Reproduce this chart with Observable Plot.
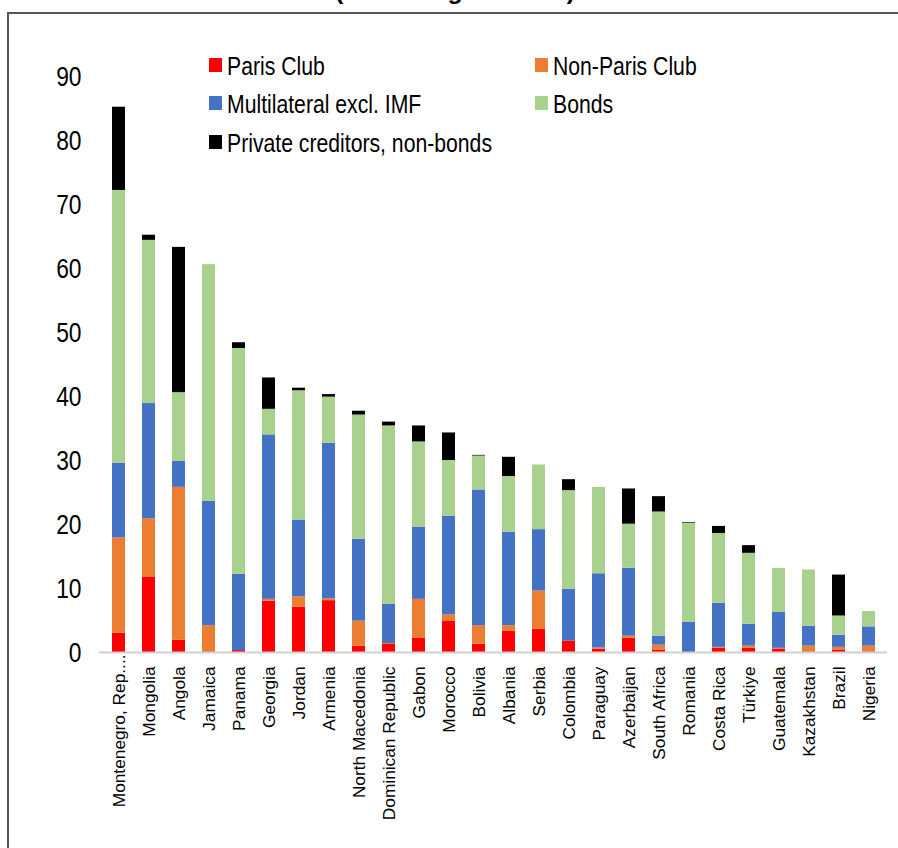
<!DOCTYPE html>
<html>
<head>
<meta charset="utf-8">
<script src="https://cdn.jsdelivr.net/npm/d3@7"></script>
<script src="https://cdn.jsdelivr.net/npm/@observablehq/plot@0.6"></script>
<style>
  html, body { margin: 0; padding: 0; background: #fff; }
  #chart { width: 898px; height: 848px; overflow: hidden; }
</style>
</head>
<body>
<div id="chart"></div>
<script>
// Stock of external public debt by creditor, percent of GDP
const countries = [
  "Montenegro, Rep. of", "Mongolia", "Angola", "Jamaica", "Panama", "Georgia",
  "Jordan", "Armenia", "North Macedonia", "Dominican Republic", "Gabon",
  "Morocco", "Bolivia", "Albania", "Serbia", "Colombia", "Paraguay",
  "Azerbaijan", "South Africa", "Romania", "Costa Rica", "Türkiye",
  "Guatemala", "Kazakhstan", "Brazil", "Nigeria"
];

const parisClub    = [3.0, 11.8, 1.9, 0.1, 0.3, 8.0, 7.1, 8.1, 1.0, 1.25, 2.2, 4.85, 1.3, 3.3, 3.65, 1.8, 0.5, 2.2, 0.4, 0.0, 0.7, 0.7, 0.55, 0.0, 0.4, 0.1];
const nonParisClub = [14.9, 9.1, 23.9, 4.1, 0.0, 0.3, 1.6, 0.3, 3.9, 0.15, 6.1, 1.05, 2.9, 0.9, 5.95, 0.0, 0.2, 0.35, 0.75, 0.0, 0.1, 0.3, 0.1, 1.0, 0.4, 0.9];
const multilateral = [11.7, 18.0, 4.1, 19.4, 11.9, 25.7, 12.0, 24.3, 12.8, 6.1, 11.3, 15.4, 21.2, 14.6, 9.6, 8.1, 11.6, 10.6, 1.4, 4.7, 6.9, 3.4, 5.6, 3.1, 1.9, 3.0];
const bonds        = [42.6, 25.5, 10.7, 37.0, 35.3, 4.0, 20.2, 7.2, 19.4, 27.9, 13.3, 8.7, 5.3, 8.7, 10.1, 15.4, 13.5, 6.9, 19.4, 15.5, 10.9, 11.1, 6.9, 8.8, 3.0, 2.4];
const privateOther = [13.0, 0.8, 22.7, 0.0, 0.9, 4.9, 0.4, 0.4, 0.6, 0.6, 2.5, 4.3, 0.1, 3.0, 0.0, 1.7, 0.0, 5.5, 2.4, 0.1, 1.1, 1.2, 0.0, 0.0, 6.4, 0.0];

const creditors = ["Paris Club", "Non-Paris Club", "Multilateral excl. IMF", "Bonds", "Private creditors, non-bonds"];
const creditorColors = ["#FF0000", "#ED7D31", "#4472C4", "#A9D18E", "#000000"];
const yTicks = [0, 10, 20, 30, 40, 50, 60, 70, 80, 90];
const titleText = "(Percentage of GDP)";

const seriesValues = [parisClub, nonParisClub, multilateral, bonds, privateOther];
const rows = countries.flatMap((country, i) =>
  creditors.map((creditor, j) => ({country, creditor, value: seriesValues[j][i]}))
);

const sans = "'Liberation Sans', Arial, sans-serif";
const NARROW = 0.8; // horizontal squeeze that gives an Arial-Narrow look

// Excel-style truncation of overlong category names
const shorten = (d) => d.length > 18 ? d.slice(0, 15) + "...." : d;

const W = 898, H = 848;
const chart = Plot.plot({
  width: W,
  height: H,
  marginLeft: 99,
  marginRight: 11,
  marginTop: 76,
  marginBottom: 196,
  style: {background: "#fff", color: "#000", overflow: "visible"},
  x: {domain: countries, paddingInner: 0.58, paddingOuter: 0.29, label: null},
  y: {domain: [0, 90], label: null},
  color: {domain: creditors, range: creditorColors},
  marks: [
    Plot.barY(rows, {x: "country", y: "value", fill: "creditor", order: creditors}),
    Plot.ruleY([0], {stroke: "#d0d0d0", strokeWidth: 2}),
    Plot.axisY({ticks: yTicks, tickSize: 0, tickPadding: 18, fontSize: 28.5, fontFamily: sans, label: null}),
    Plot.axisX({tickRotate: -90, tickSize: 0, tickPadding: 14, fontSize: 17.3, fontFamily: sans, tickFormat: shorten, label: null})
  ]
});

document.getElementById("chart").appendChild(chart);

const svg = d3.select(chart);

// squeeze text horizontally while keeping its anchor point fixed
function condense(selection, k) {
  selection.each(function () {
    const x = +this.getAttribute("x") || 0;
    const tr = this.getAttribute("transform") || "";
    this.setAttribute("transform", `${tr} translate(${x * (1 - k)},0) scale(${k},1)`);
  });
}
condense(svg.selectAll('g[aria-label="y-axis tick label"] text'), NARROW);

// the truncated first category label overhangs toward the axis line
svg.selectAll('g[aria-label="x-axis tick label"] text')
  .filter((d, i) => i === 0)
  .each(function () {
    const tr = this.getAttribute("transform") || "";
    this.setAttribute("transform", `translate(0,-12) ${tr}`);
  });

// outer chart border
svg.append("path")
  .attr("d", `M8,${H} L8,13 L${W},13`)
  .attr("fill", "none")
  .attr("stroke", "#555")
  .attr("stroke-width", 2);

// title sits above the frame
svg.append("text")
  .attr("x", 455)
  .attr("y", -1.5)
  .attr("text-anchor", "middle")
  .attr("font-family", sans)
  .attr("font-weight", "bold")
  .attr("font-size", 24.7)
  .attr("fill", "#000")
  .text(titleText);

// legend: two columns
const legendCols = [209, 535];
const legendRows = [65, 103, 142];
const legendPos = [[0, 0], [1, 0], [0, 1], [1, 1], [0, 2]];
const legend = svg.append("g").attr("font-family", sans).attr("font-size", 26.5);
creditors.forEach((name, k) => {
  const [c, r] = legendPos[k];
  const x = legendCols[c], y = legendRows[r];
  legend.append("rect")
    .attr("x", x).attr("y", y - 7)
    .attr("width", 13).attr("height", 14)
    .attr("fill", creditorColors[k]);
  legend.append("text")
    .attr("transform", `translate(${x + 18},${y}) scale(${NARROW},1)`)
    .attr("text-anchor", "start")
    .attr("dy", "0.36em")
    .attr("fill", "#000")
    .text(name);
});
</script>
</body>
</html>
